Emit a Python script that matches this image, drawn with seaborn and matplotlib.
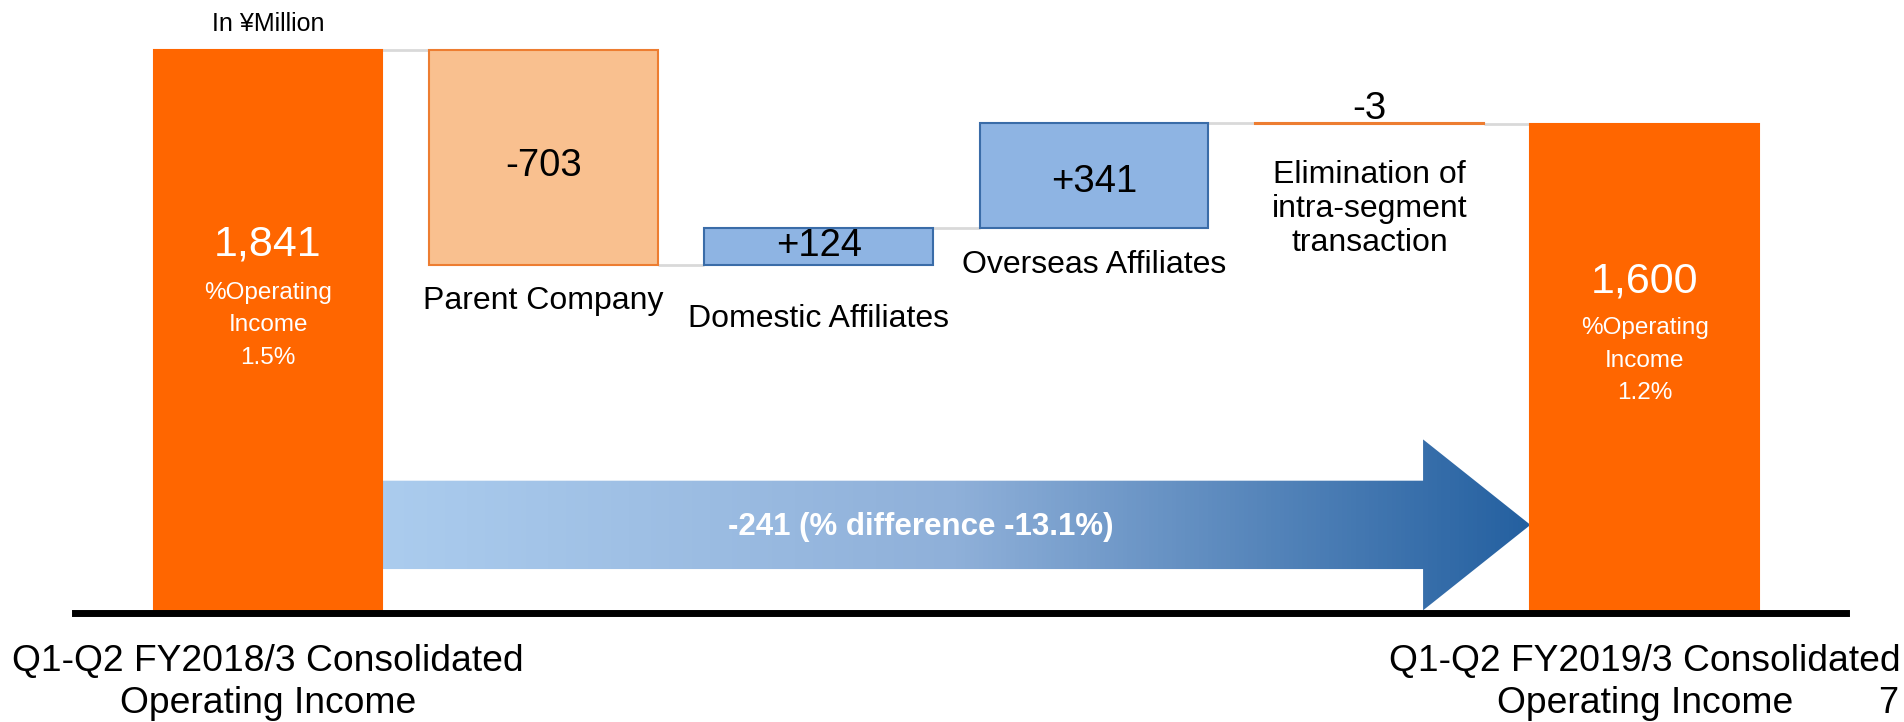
import numpy as np
import pandas as pd
import seaborn as sns
import matplotlib.pyplot as plt
from matplotlib.colors import LinearSegmentedColormap
from matplotlib.patches import Polygon

# values (in JPY million)
categories = ['FY2018', 'Parent', 'Domestic', 'Overseas', 'Elimination', 'FY2019']
names = ['Q1-Q2 FY2018/3 Consolidated\nOperating Income', 'Parent Company',
         'Domestic Affiliates', 'Overseas Affiliates',
         'Elimination of\nintra-segment\ntransaction',
         'Q1-Q2 FY2019/3 Consolidated\nOperating Income']
values = [1841, -703, 124, 341, -3, 1600]
is_total = [True, False, False, False, False, True]
value_labels = ['1,841', '-703', '+124', '+341', '-3', '1,600']
margin_labels = ['1.5%', '1.2%']
diff_label = '-241 (% difference -13.1%)'

sns.set_style('white')
plt.rcParams['font.family'] = ['Liberation Sans', 'DejaVu Sans']
plt.rcParams['text.color'] = 'black'

# waterfall geometry
bottoms, heights, running = [], [], 0
for v, tot in zip(values, is_total):
    if tot:
        bottoms.append(0); heights.append(v); running = v
    else:
        lo = running + min(v, 0)
        bottoms.append(lo); heights.append(abs(v)); running += v
tops = [b + h for b, h in zip(bottoms, heights)]
df = pd.DataFrame({'cat': categories, 'height': heights})

orange = '#FF6600'
face = {'FY2018': orange, 'Parent': '#F9C08F', 'Domestic': '#8EB4E3',
        'Overseas': '#8EB4E3', 'Elimination': '#ED7D31', 'FY2019': orange}
edge = [orange, '#ED7D31', '#3A6CA8', '#3A6CA8', '#ED7D31', orange]

fig = plt.figure(figsize=(19.04, 7.22), dpi=100)
ax = fig.add_axes([62 / 1568, 1 - 505.5 / 595, 1458 / 1568, 505.5 / 595])
bw = 0.83
sns.barplot(data=df, x='cat', y='height', hue='cat', order=categories,
            hue_order=categories, palette=face, width=bw, legend=False,
            saturation=1, ax=ax, zorder=3)
for p, b, ec in zip(ax.patches, bottoms, edge):
    p.set_y(b)
    p.set_edgecolor(ec)
    p.set_linewidth(1.5)

# connectors
for i in range(len(values) - 1):
    level = tops[i] if values[i] > 0 else bottoms[i]
    ax.hlines(level, i + bw / 2, i + 1 - bw / 2, color='#D9D9D9', lw=2, zorder=2)

# gradient arrow from first total to last total
x0, x1 = bw / 2, len(values) - 1 - bw / 2
xh = x1 - 0.39
sy0, sy1, hy0, hy1 = 145, 434, 10, 569
ym = (sy0 + sy1) / 2
arrow = Polygon([(x0, sy0), (xh, sy0), (xh, hy0), (x1, ym), (xh, hy1), (xh, sy1), (x0, sy1)],
                closed=True, facecolor='none', edgecolor='none', transform=ax.transData)
ax.add_patch(arrow)
cmap = LinearSegmentedColormap.from_list('arr', ['#ABCCEE', '#8FB0D9', '#2460A0'])
grad = np.linspace(0, 1, 256).reshape(1, -1)
im = ax.imshow(grad, cmap=cmap, aspect='auto', extent=[x0, x1, hy0, hy1],
               origin='lower', zorder=2.5)
im.set_clip_path(arrow)
ax.text(2.37, ym - 6, diff_label, color='white', fontsize=22.5,
        fontweight='bold', ha='center', va='center', zorder=4)

# labels on totals
for i, m, yv, ym2 in zip([0, 5], margin_labels, [1208, 1085], [942, 827]):
    ax.text(i, yv, value_labels[i], color='white', fontsize=31, ha='center', va='center', zorder=4)
    ax.text(i, ym2, '%Operating\nIncome\n' + m, color='white', fontsize=17.5,
            ha='center', va='center', linespacing=1.63, zorder=4)

# labels on deltas
val_y = [None, 1462, 1200, 1411, 1649, None]
name_y = [None, 1022, 962, 1141, 1323, None]
for i in range(1, 5):
    ax.text(i, val_y[i], value_labels[i], fontsize=27.5, ha='center', va='center', zorder=4)
    ax.text(i, name_y[i], names[i], fontsize=23, ha='center', va='center',
            linespacing=1.17, zorder=4)

ax.text(0, 1927, 'In ¥Million', fontsize=18, ha='center', va='center')

# category names under the axis for the two totals
xt = ax.get_xaxis_transform()
for i in [0, 5]:
    for line, yf in zip(names[i].split('\n'), [-0.078, -0.147]):
        ax.text(i, yf, line, transform=xt, fontsize=26.8, ha='center', va='center')

ax.set_xlim(-0.70, 5.73)
ax.set_ylim(0, 2006)
ax.set_xticks([])
ax.set_yticks([])
ax.set_xlabel(None)
ax.set_ylabel(None)
sns.despine(ax=ax, left=True)
ax.spines['bottom'].set_linewidth(5)
ax.spines['bottom'].set_color('black')
ax.spines['bottom'].set_zorder(5)

fig.text(1555 / 1568, 1 - 580 / 595, '7', fontsize=26, ha='center', va='center')
fig.savefig('out.png', dpi=100)
